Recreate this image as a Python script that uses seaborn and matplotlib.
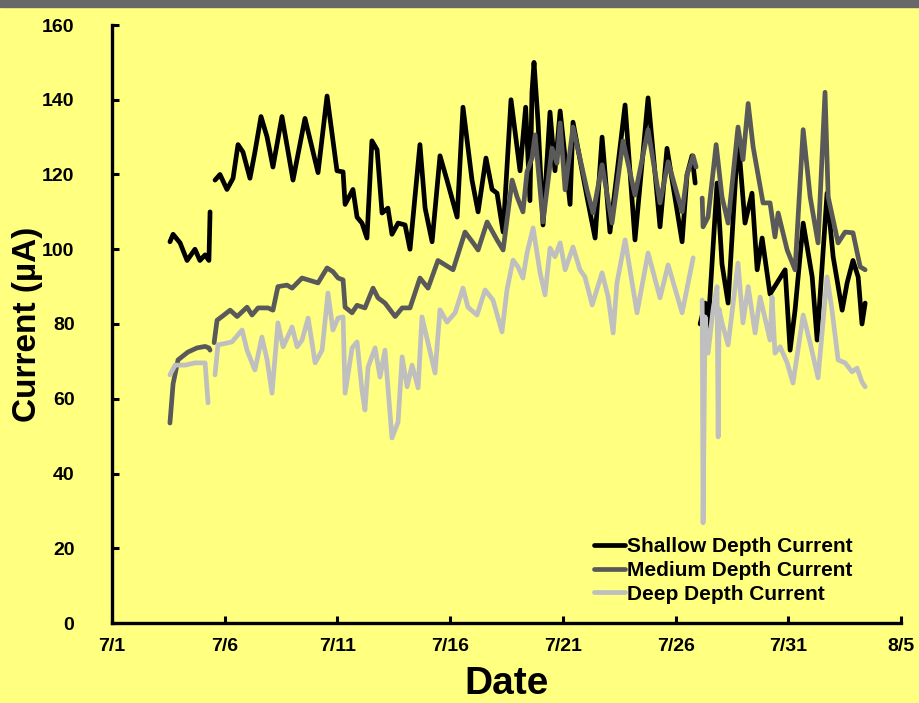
import numpy as np
import pandas as pd
import matplotlib
matplotlib.use("Agg")
import matplotlib.pyplot as plt
from matplotlib.patches import Rectangle
from matplotlib.ticker import FuncFormatter
import matplotlib.dates as mdates
import seaborn as sns

# (day of July, current in uA); NaN marks a break in the record
shallow = [
    (3.57, 102), (3.71, 104), (4.02, 101.7), (4.33, 97), (4.68, 100), (4.90, 97),
    (5.13, 98.5), (5.30, 97), (5.35, 110), (5.45, np.nan),
    (5.57, 118.5), (5.79, 120), (6.10, 116), (6.37, 119), (6.59, 128), (6.81, 126),
    (7.12, 119), (7.34, 126), (7.61, 135.5), (7.88, 130), (8.14, 122), (8.54, 135.5),
    (9.03, 118.5), (9.56, 135), (10.14, 120.5), (10.54, 141), (10.98, 121), (11.25, 120.7),
    (11.34, 112), (11.69, 116), (11.87, 108.6), (12.09, 107), (12.31, 103), (12.53, 129),
    (12.76, 126.6), (12.98, 109.7), (13.24, 111), (13.42, 104), (13.69, 107), (14.00, 106.5),
    (14.22, 100), (14.66, 128), (14.89, 111), (15.20, 102), (15.55, 125), (15.86, 118.5),
    (16.31, 108.6), (16.57, 138), (16.97, 118.5), (17.24, 110), (17.59, 124.4), (17.86, 116),
    (18.08, 115), (18.35, 104.6), (18.70, 140), (19.10, 121), (19.35, 138), (19.54, 113),
    (19.63, 142), (19.72, 150), (19.90, 134), (20.12, 106.5), (20.43, 136.7), (20.65, 121),
    (20.88, 137), (21.32, 112), (21.45, 134), (22.07, 114), (22.43, 103), (22.74, 130),
    (23.09, 104.6), (23.76, 138.6), (24.20, 102.5), (24.78, 140.5), (25.31, 106), (25.62, 127),
    (26.29, 102), (26.51, 120), (26.73, 125), (26.87, 117.7), (26.98, np.nan),
    (27.09, 80), (27.31, 85.6), (27.44, 79), (27.84, 117.7), (28.06, 96), (28.33, 85.6),
    (28.77, 130), (29.08, 107), (29.39, 115), (29.62, 94.5), (29.84, 103), (30.19, 88),
    (30.50, 91), (30.86, 94.5), (31.08, 73), (31.30, 83.7), (31.66, 107), (32.06, 92.6),
    (32.28, 75.7), (32.54, 99), (32.72, 115), (32.99, 98), (33.39, 83.7), (33.61, 91),
    (33.87, 97), (34.10, 92.6), (34.27, 80), (34.41, 85.6),
]

medium = [
    (3.57, 53.5), (3.71, 64), (3.93, 70.4), (4.37, 72.5), (4.77, 73.6), (5.13, 74),
    (5.30, 73.6), (5.35, 73), (5.45, np.nan),
    (5.53, 75), (5.66, 81), (5.88, 82), (6.24, 83.7), (6.55, 82), (6.99, 84.5),
    (7.21, 82.4), (7.48, 84.3), (7.92, 84.3), (8.14, 83.7), (8.36, 90), (8.76, 90.4),
    (8.99, 89.6), (9.43, 92.3), (9.70, 91.8), (10.14, 91), (10.54, 95), (10.80, 94),
    (11.03, 92.3), (11.25, 91.8), (11.34, 84.5), (11.65, 83), (11.87, 85), (12.22, 84.3),
    (12.58, 89.6), (12.80, 87), (13.11, 85.6), (13.56, 82), (13.87, 84.3), (14.22, 84.3),
    (14.66, 92.3), (15.02, 89.6), (15.46, 97), (16.13, 94.5), (16.66, 104.6), (17.02, 101.7),
    (17.24, 99.8), (17.64, 107.3), (18.08, 102.5), (18.35, 99.8), (18.75, 118.5), (18.97, 114),
    (19.23, 110), (19.41, 120.7), (19.63, 124.4), (19.77, 130.6), (20.12, 107.3), (20.52, 127),
    (20.74, 123), (20.88, 133.8), (21.10, 115.9), (21.45, 132.7), (22.07, 115.9), (22.34, 109.7),
    (22.74, 122.6), (23.18, 107), (23.67, 129), (24.20, 114.5), (24.78, 132), (25.31, 112.4),
    (25.67, 123.4), (26.29, 110), (26.51, 120), (26.78, 125), (26.91, 122), (27.05, np.nan),
    (27.18, 113.7), (27.22, 106), (27.44, 108.6), (27.80, 128), (28.06, 114), (28.33, 107),
    (28.77, 132.7), (28.99, 124), (29.22, 139), (29.44, 127.4), (29.88, 112.4), (30.19, 112.4),
    (30.41, 103.3), (30.55, 109.7), (30.95, 99.8), (31.30, 94.5), (31.66, 132), (31.97, 114),
    (32.32, 101.7), (32.63, 142), (32.77, 114), (33.21, 101.7), (33.52, 104.6), (33.87, 104.4),
    (34.19, 95.3), (34.41, 94.5),
]

deep = [
    (3.57, 66.4), (3.80, 69), (4.24, 69), (4.68, 69.6), (5.13, 69.6), (5.26, 58.9),
    (5.40, np.nan),
    (5.57, 66.4), (5.70, 74.4), (6.32, 75.2), (6.77, 78.4), (6.99, 73), (7.21, 69.6),
    (7.34, 67.7), (7.65, 76.5), (7.88, 70.4), (8.10, 61.5), (8.36, 80.3), (8.59, 73.9),
    (8.99, 79.2), (9.21, 73.9), (9.43, 75.7), (9.70, 81.6), (10.01, 69.6), (10.32, 73),
    (10.58, 88.3), (10.80, 78.4), (11.03, 81.6), (11.25, 81.9), (11.34, 61.5), (11.65, 73.6),
    (11.87, 75.2), (12.09, 62.3), (12.22, 57), (12.36, 68.5), (12.67, 73.6), (12.89, 65.8),
    (13.11, 73), (13.42, 49.5), (13.69, 53.8), (13.87, 71.2), (14.09, 63.2), (14.31, 69),
    (14.58, 62.9), (14.75, 81.9), (15.02, 74.9), (15.33, 66.9), (15.55, 83.8), (15.86, 80.5),
    (16.22, 83), (16.57, 89.6), (16.79, 84.5), (17.19, 82.4), (17.55, 89.1), (17.90, 86.4),
    (18.30, 77.9), (18.52, 89.1), (18.79, 97.1), (19.01, 95.3), (19.23, 92.3), (19.41, 99),
    (19.68, 105.7), (19.99, 93.7), (20.21, 87.8), (20.43, 100.3), (20.65, 98), (20.88, 101.7),
    (21.10, 94.5), (21.45, 100.6), (21.76, 94.5), (21.98, 92.6), (22.30, 85.1), (22.74, 93.7),
    (23.01, 87.2), (23.23, 77.6), (23.40, 91), (23.76, 102.5), (24.29, 83), (24.78, 99),
    (25.31, 87), (25.67, 95.8), (26.29, 83), (26.78, 97.7), (27.00, np.nan),
    (27.18, 86.4), (27.22, 26.8), (27.31, 81.9), (27.44, 72.2), (27.66, 83.7), (27.84, 90),
    (27.89, 49.8), (27.93, 84), (28.06, 80.3), (28.33, 74.4), (28.77, 96.3), (28.99, 80.3),
    (29.22, 90), (29.53, 77.6), (29.75, 87.2), (30.19, 75.7), (30.28, 87.2), (30.41, 72.2),
    (30.64, 73.9), (30.95, 69.6), (31.21, 64.2), (31.66, 82.4), (31.97, 74.9), (32.32, 65.6),
    (32.72, 92.6), (32.94, 83.7), (33.21, 70.4), (33.52, 69.6), (33.83, 67.2), (34.05, 68.2),
    (34.27, 64.5), (34.41, 63.2),
]

series_names = ["Shallow Depth Current", "Medium Depth Current", "Deep Depth Current"]
series_colors = ["#000000", "#595959", "#bfbfbf"]
y_ticks = [0, 20, 40, 60, 80, 100, 120, 140, 160]

BG = "#ffff80"


def build_frame():
    frames = []
    for name, pts in zip(series_names, [shallow, medium, deep]):
        d = pd.DataFrame(pts, columns=["day", "current"])
        d["segment"] = d["current"].isna().cumsum()
        d = d.dropna()
        d["series"] = name
        d["date"] = pd.Timestamp("2010-06-30") + pd.to_timedelta(d["day"], unit="D")
        frames.append(d)
    return pd.concat(frames, ignore_index=True)


def main():
    sns.set_style("ticks")
    plt.rcParams["font.family"] = ["Liberation Sans", "DejaVu Sans"]
    plt.rcParams["font.weight"] = "bold"
    plt.rcParams["text.color"] = "black"
    plt.rcParams["axes.labelcolor"] = "black"

    df = build_frame()

    fig = plt.figure(figsize=(9.19, 7.03), dpi=100)
    fig.patch.set_facecolor(BG)
    fig.add_artist(Rectangle((0, 1 - 7 / 703), 1, 7 / 703, transform=fig.transFigure,
                             color="#686868", zorder=5))
    ax = fig.add_axes([112 / 919, 1 - 623 / 703, 789 / 919, 598 / 703])
    ax.set_facecolor(BG)

    sns.lineplot(data=df, x="date", y="current", hue="series", hue_order=series_names,
                 palette=series_colors, units="segment", estimator=None, sort=False,
                 linewidth=3.4, solid_joinstyle="round", solid_capstyle="round", ax=ax)

    ax.set_ylim(0, 160)
    ax.set_yticks(y_ticks)
    ax.set_xlim(pd.Timestamp("2010-07-01"), pd.Timestamp("2010-08-05"))
    ax.set_xticks(pd.date_range("2010-07-01", "2010-08-05", freq="5D"))
    ax.xaxis.set_major_formatter(FuncFormatter(
        lambda v, pos: "{}/{}".format(mdates.num2date(v).month, mdates.num2date(v).day)))

    for s in ["top", "right"]:
        ax.spines[s].set_visible(False)
    for s in ["left", "bottom"]:
        ax.spines[s].set_linewidth(2.4)
        ax.spines[s].set_color("black")
    ax.tick_params(axis="both", direction="in", length=5, width=2.2, labelsize=14,
                   colors="black")
    ax.tick_params(axis="y", pad=27)
    ax.tick_params(axis="x", pad=11)
    for lab in ax.get_xticklabels() + ax.get_yticklabels():
        lab.set_fontweight("bold")

    ax.set_xlabel("Date", fontsize=28, fontweight="bold", va="center", color="black")
    ax.xaxis.set_label_coords(0.5, -(684 - 623) / 598)
    ax.set_ylabel("Current (\u00b5A)", fontsize=24, fontweight="bold", va="center",
                  color="black")
    ax.yaxis.set_label_coords(-(112 - 28) / 789, 0.5)

    handles, labels = ax.get_legend_handles_labels()
    leg = ax.legend(handles, labels, loc="lower left", bbox_to_anchor=(0.592, 0.008),
                    frameon=False, fontsize=15, handlelength=1.5, handletextpad=0.1,
                    labelspacing=0.22, borderpad=0.2)
    for h in leg.get_lines():
        h.set_linewidth(3.4)
    for t in leg.get_texts():
        t.set_fontweight("bold")
        t.set_color("black")

    fig.savefig("out.png", dpi=100, facecolor=BG)


if __name__ == "__main__":
    main()
